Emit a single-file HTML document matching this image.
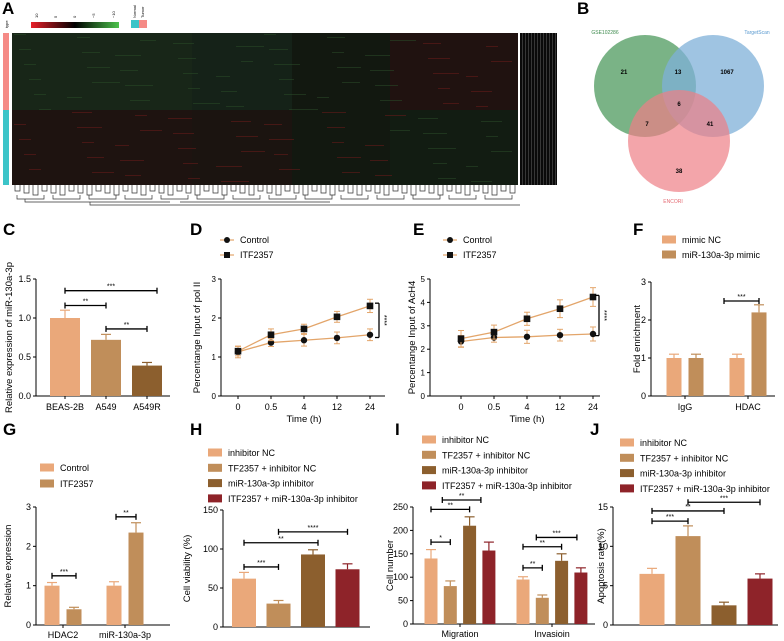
<!DOCTYPE html>
<html><head><meta charset="utf-8">
<style>
html,body{margin:0;padding:0;background:#fff;}
svg{display:block;font-family:"Liberation Sans",Arial,sans-serif;}
</style></head>
<body>
<svg id="fig" width="784" height="641" viewBox="0 0 784 641" xmlns="http://www.w3.org/2000/svg">
<defs>
<linearGradient id="cbar" x1="0" x2="1" y1="0" y2="0">
<stop offset="0" stop-color="#e8202a"/><stop offset="0.5" stop-color="#000"/><stop offset="1" stop-color="#4cc24c"/>
</linearGradient>
</defs>
<g>
<text x="2" y="14" font-size="17" font-weight="bold">A</text>
<rect x="31" y="22" width="88" height="6" fill="url(#cbar)"/>
<text x="38" y="18" font-size="4" transform="rotate(-90 38 18)">10</text>
<text x="57" y="18" font-size="4" transform="rotate(-90 57 18)">5</text>
<text x="76" y="18" font-size="4" transform="rotate(-90 76 18)">0</text>
<text x="95" y="18" font-size="4" transform="rotate(-90 95 18)">−5</text>
<text x="115" y="18" font-size="4" transform="rotate(-90 115 18)">−10</text>
<rect x="131" y="20" width="8" height="8" fill="#3cc4c8"/><rect x="139" y="20" width="8" height="8" fill="#f58a86"/>
<text x="136" y="18" font-size="4" transform="rotate(-90 136 18)">Normal</text>
<text x="144" y="18" font-size="4" transform="rotate(-90 144 18)">Tumor</text>
<text x="8" y="28" font-size="4" transform="rotate(-90 8 28)">type</text>
<rect x="3" y="33" width="6" height="77" fill="#f58a86"/>
<rect x="3" y="110" width="6" height="75" fill="#3cc4c8"/>
<rect x="12" y="33" width="506" height="152" fill="#121810"/>
<rect x="12" y="33" width="180" height="77" fill="#182618"/>
<rect x="192" y="33" width="100" height="77" fill="#152218"/>
<rect x="12" y="110" width="180" height="75" fill="#1e1310"/>
<rect x="192" y="110" width="100" height="75" fill="#1b1410"/>
<rect x="390" y="33" width="128" height="77" fill="#201210"/>
<rect x="390" y="110" width="128" height="75" fill="#121c12"/>
<g id="heatstripes"></g>
<rect x="520" y="33" width="37" height="152" fill="#0a0a0a"/>
<g id="labels-col"></g>
<g id="dendro" stroke="#333" stroke-width="0.7" fill="none"></g>
</g>
<g>
<text x="577" y="14" font-size="17" font-weight="bold">B</text>
<circle cx="645" cy="86" r="51" fill="#4e9a5e" fill-opacity="0.75"/>
<circle cx="713" cy="86" r="51" fill="#7fb0d8" fill-opacity="0.75"/>
<circle cx="679" cy="141" r="51" fill="#ee7f86" fill-opacity="0.7"/>
<g font-size="6" font-weight="bold" text-anchor="middle">
<text x="624" y="74">21</text><text x="678" y="74">13</text><text x="727" y="74">1067</text>
<text x="679" y="106">6</text><text x="647" y="126">7</text><text x="710" y="126">41</text><text x="679" y="173">38</text>
</g>
<text x="605" y="34" font-size="5" fill="#3d8a4d" text-anchor="middle">GSE102286</text>
<text x="757" y="34" font-size="5" fill="#5a9ad0" text-anchor="middle">TargetScan</text>
<text x="673" y="203" font-size="5" fill="#e46a72" text-anchor="middle">ENCORI</text>
</g>
<g id="charts"></g>
</svg>
<script>
const cCats = ["BEAS-2B","A549","A549R"];
const cVals = [1.0,0.72,0.39];
const cErrs = [0.1,0.07,0.04];
const cTicks = [0,0.5,1.0,1.5];
const cTickLabels = ["0.0","0.5","1.0","1.5"];
const cSig = [[0,2,"***",1.35],[0,1,"**",1.16],[1,2,"**",0.86]];

const timeCats = ["0","0.5","4","12","24"];
const dControl = [1.13,1.37,1.43,1.49,1.57];
const dControlErr = [0.15,0.1,0.15,0.15,0.15];
const dITF = [1.15,1.57,1.72,2.03,2.31];
const dITFErr = [0.12,0.15,0.12,0.14,0.17];
const dTicks = [0,1,2,3];
const eControl = [2.33,2.5,2.53,2.6,2.65];
const eControlErr = [0.25,0.2,0.28,0.25,0.3];
const eITF = [2.45,2.73,3.3,3.73,4.23];
const eITFErr = [0.35,0.3,0.28,0.38,0.4];
const eTicks = [0,1,2,3,4,5];

const fCats = ["IgG","HDAC"];
const fMimicNC = [1.0,1.0];
const fMimic = [1.0,2.2];
const fErrNC = [0.1,0.1];
const fErrMimic = [0.1,0.2];
const fTicks = [0,1,2,3];

const gCats = ["HDAC2","miR-130a-3p"];
const gControl = [1.0,1.0];
const gITF = [0.4,2.35];
const gErrControl = [0.08,0.1];
const gErrITF = [0.05,0.25];
const gTicks = [0,1,2,3];

const hVals = [62,30,93,74];
const hErrs = [8,4,6,7];
const hTicks = [0,50,100,150];
const hSig = [[0,1,"***",77],[0,2,"**",108],[1,3,"****",122]];

const iCats = ["Migration","Invasioin"];
const iMigration = [140,81,210,157];
const iMigErr = [19,11,19,18];
const iInvasion = [95,56,135,110];
const iInvErr = [6,6,15,10];
const iTicks = [0,50,100,150,200,250];

const jVals = [6.5,11.3,2.5,5.9];
const jErrs = [0.7,1.3,0.4,0.6];
const jTicks = [0,5,10,15];
const jSig = [[0,1,"***",13.2],[0,2,"**",14.5],[1,3,"***",15.6]];

const fourLegend = ["inhibitor NC","TF2357 + inhibitor NC","miR-130a-3p inhibitor","ITF2357 + miR-130a-3p inhibitor"];
const COL = ["#eaa87a","#c08e5a","#8c5f2e","#8e2329"];
const LINE = "#e3a56a";
const NS = "http://www.w3.org/2000/svg";
const root = document.getElementById("charts");
function mk(tag, attrs, parent, txt){
  const e = document.createElementNS(NS, tag);
  for (const k in attrs) e.setAttribute(k, attrs[k]);
  if (txt !== undefined) e.textContent = txt;
  (parent||root).appendChild(e);
  return e;
}
function grp(name){
  const g = document.createElementNS(NS,"g");
  
  
  root.appendChild(g);
  return g;
}
function yAxis(g, x0, yB, yT, max, ticks, labels, title, tx, fs){
  fs = fs || 9;
  const sy = v => yB - v/max*(yB-yT);
  mk("line",{x1:x0,y1:yB,x2:x0,y2:yT,stroke:"#000","stroke-width":1},g);
  ticks.forEach((t,i)=>{
    mk("line",{x1:x0-3,y1:sy(t),x2:x0,y2:sy(t),stroke:"#000","stroke-width":1},g);
    mk("text",{x:x0-5,y:sy(t)+3,"font-size":fs,"text-anchor":"end"},g,labels?labels[i]:String(t));
  });
  const ty=(yB+yT)/2;
  mk("text",{x:tx,y:ty,"font-size":9.5,"text-anchor":"middle",transform:`rotate(-90 ${tx} ${ty})`},g,title);
  return sy;
}
function xAxis(g,x0,x1,yB){ mk("line",{x1:x0,y1:yB,x2:x1,y2:yB,stroke:"#000","stroke-width":1},g); }
function bar(g, cx, w, v, e, sy, color, name){
  const r = mk("rect",{x:cx-w/2,y:sy(v),width:w,height:sy(0)-sy(v),fill:color},g);
  
  
  mk("line",{x1:cx,y1:sy(v),x2:cx,y2:sy(v+e),stroke:color,"stroke-width":1.2},g);
  mk("line",{x1:cx-5,y1:sy(v+e),x2:cx+5,y2:sy(v+e),stroke:color,"stroke-width":1.2},g);
}
function sig(g, xa, xb, y, lab){
  mk("line",{x1:xa,y1:y,x2:xb,y2:y,stroke:"#000","stroke-width":1.3},g);
  mk("line",{x1:xa,y1:y-3,x2:xa,y2:y+3,stroke:"#000","stroke-width":1.3},g);
  mk("line",{x1:xb,y1:y-3,x2:xb,y2:y+3,stroke:"#000","stroke-width":1.3},g);
  mk("text",{x:(xa+xb)/2,y:y-2,"font-size":7,"text-anchor":"middle"},g,lab);
}
function letter(g,l,x,y){ mk("text",{x:x,y:y,"font-size":17,"font-weight":"bold"},g,l); }
function legendSw(g,x,y,color,label){
  mk("rect",{x:x,y:y-4.5,width:14,height:8,fill:color},g);
  mk("text",{x:x+20,y:y+3,"font-size":9},g,label);
}

(function(){
  const g = grp("panel-c-bar-chart");
  letter(g,"C",3,235);
  const x0=36,yB=396,yT=279;
  const sy = yAxis(g,x0,yB,yT,1.5,cTicks,cTickLabels,"Relative expression of miR-130a-3p",12);
  xAxis(g,x0,170,yB);
  const bx = i => 65 + i*41;
  cCats.forEach((c,i)=>{
    bar(g,bx(i),30,cVals[i],cErrs[i],sy,COL[i],"bar-"+c.toLowerCase());
    mk("line",{x1:bx(i),y1:yB,x2:bx(i),y2:yB+3,stroke:"#000"},g);
    mk("text",{x:bx(i),y:yB+14,"font-size":9,"text-anchor":"middle"},g,c);
  });
  cSig.forEach(s=>sig(g,bx(s[0]),bx(s[1])+10*(s[1]-s[0]>1?1:0),sy(s[3]),s[2]));
})();

function linePanel(name,L,lx,x0,xEnd,ticks,max,ctrl,ctrlE,itf,itfE,title,tx,xs0,dx,sx){
  const g = grp(name);
  letter(g,L,lx,235);
  const yB=396,yT=279;
  const sy = yAxis(g,x0,yB,yT,max,ticks,null,title,tx,8);
  xAxis(g,x0,xEnd,yB);
  const bx = i => xs0 + i*dx;
  timeCats.forEach((c,i)=>{
    mk("line",{x1:bx(i),y1:yB,x2:bx(i),y2:yB+3,stroke:"#000"},g);
    mk("text",{x:bx(i),y:yB+14,"font-size":9,"text-anchor":"middle"},g,c);
  });
  mk("text",{x:(xs0+bx(4))/2,y:yB+26,"font-size":9.5,"text-anchor":"middle"},g,"Time (h)");
  [[ctrl,ctrlE,"circle","control"],[itf,itfE,"square","itf2357"]].forEach(([vals,errs,shape,nm])=>{
    const pts = vals.map((v,i)=>bx(i)+","+sy(v)).join(" ");
    const pl = mk("polyline",{points:pts,fill:"none",stroke:LINE,"stroke-width":1.3},g);
    
    
    vals.forEach((v,i)=>{
      mk("line",{x1:bx(i),y1:sy(v-errs[i]),x2:bx(i),y2:sy(v+errs[i]),stroke:LINE,"stroke-width":1},g);
      mk("line",{x1:bx(i)-3,y1:sy(v+errs[i]),x2:bx(i)+3,y2:sy(v+errs[i]),stroke:LINE,"stroke-width":1},g);
      mk("line",{x1:bx(i)-3,y1:sy(v-errs[i]),x2:bx(i)+3,y2:sy(v-errs[i]),stroke:LINE,"stroke-width":1},g);
      if(shape==="circle") mk("circle",{cx:bx(i),cy:sy(v),r:3.2,fill:"#111"},g);
      else mk("rect",{x:bx(i)-3.3,y:sy(v)-3.3,width:6.6,height:6.6,fill:"#111"},g);
    });
  });
  const i4 = 4;
  const ya = sy(ctrl[i4]-0.07), yb = sy(itf[i4]+0.07);
  mk("line",{x1:sx,y1:ya,x2:sx,y2:yb,stroke:"#000","stroke-width":1.3},g);
  mk("line",{x1:sx-4,y1:ya,x2:sx,y2:ya,stroke:"#000","stroke-width":1.3},g);
  mk("line",{x1:sx-4,y1:yb,x2:sx,y2:yb,stroke:"#000","stroke-width":1.3},g);
  mk("text",{x:sx+3,y:(ya+yb)/2,"font-size":7,"text-anchor":"middle",transform:`rotate(90 ${sx+3} ${(ya+yb)/2})`},g,"****");
  const lx2 = lx+30;
  mk("line",{x1:lx2,y1:240,x2:lx2+14,y2:240,stroke:LINE,"stroke-width":1.2},g);
  mk("circle",{cx:lx2+7,cy:240,r:3,fill:"#111"},g);
  mk("text",{x:lx2+20,y:243,"font-size":9},g,"Control");
  mk("line",{x1:lx2,y1:255,x2:lx2+14,y2:255,stroke:LINE,"stroke-width":1.2},g);
  mk("rect",{x:lx2+4,y:252,width:6,height:6,fill:"#111"},g);
  mk("text",{x:lx2+20,y:258,"font-size":9},g,"ITF2357");
}
linePanel("panel-d-line-chart","D",190,221,385,dTicks,3,dControl,dControlErr,dITF,dITFErr,"Percentange Input of pol II",200,238,33,379);
linePanel("panel-e-line-chart","E",413,430,600,eTicks,5,eControl,eControlErr,eITF,eITFErr,"Percentange Input of AcH4",415,461,33,599);

(function(){
  const g = grp("panel-f-bar-chart");
  letter(g,"F",633,235);
  const x0=651,yB=396,yT=282;
  const sy = yAxis(g,x0,yB,yT,3,fTicks,null,"Fold enrichment",640);
  xAxis(g,x0,775,yB);
  const gx = k => 685 + k*63;
  fCats.forEach((c,k)=>{
    bar(g,gx(k)-11,15,fMimicNC[k],fErrNC[k],sy,COL[0],"bar-"+c.toLowerCase()+"-mimic-nc");
    bar(g,gx(k)+11,15,fMimic[k],fErrMimic[k],sy,COL[1],"bar-"+c.toLowerCase()+"-mimic");
    mk("line",{x1:gx(k),y1:yB,x2:gx(k),y2:yB+3,stroke:"#000"},g);
    mk("text",{x:gx(k),y:yB+14,"font-size":9,"text-anchor":"middle"},g,c);
  });
  sig(g,gx(1)-24,gx(1)+11,sy(2.5),"***");
  legendSw(g,662,240,COL[0],"mimic NC");
  legendSw(g,662,255,COL[1],"miR-130a-3p mimic");
})();

(function(){
  const g = grp("panel-g-bar-chart");
  letter(g,"G",3,435);
  const x0=36,yB=625,yT=507;
  const sy = yAxis(g,x0,yB,yT,3,gTicks,null,"Relative expression",11);
  xAxis(g,x0,170,yB);
  const gx = k => 63 + k*62;
  gCats.forEach((c,k)=>{
    bar(g,gx(k)-11,15,gControl[k],gErrControl[k],sy,COL[0],"bar-"+c.toLowerCase()+"-control");
    bar(g,gx(k)+11,15,gITF[k],gErrITF[k],sy,COL[1],"bar-"+c.toLowerCase()+"-itf2357");
    mk("line",{x1:gx(k),y1:yB,x2:gx(k),y2:yB+3,stroke:"#000"},g);
    mk("text",{x:gx(k),y:yB+13,"font-size":9,"text-anchor":"middle"},g,c);
  });
  sig(g,gx(0)-11,gx(0)+13,sy(1.25),"***");
  sig(g,gx(1)-9,gx(1)+11,sy(2.75),"**");
  legendSw(g,40,468,COL[0],"Control");
  legendSw(g,40,484,COL[1],"ITF2357");
})();

(function(){
  const g = grp("panel-h-bar-chart");
  letter(g,"H",190,435);
  const x0=223,yB=627,yT=510;
  const sy = yAxis(g,x0,yB,yT,150,hTicks,null,"Cell viability (%)",190);
  xAxis(g,x0,370,yB);
  const bx = i => 244 + i*34.5;
  hVals.forEach((v,i)=>bar(g,bx(i),24,v,hErrs[i],sy,COL[i],"bar-h-"+(i+1)));
  hSig.forEach(s=>sig(g,bx(s[0]),bx(s[1])+(s[1]-s[0]>1?(s[0]===1?0:5):0),sy(s[3]),s[2]));
  fourLegend.forEach((l,i)=>legendSw(g,208,453+i*15.3,COL[i],l));
})();

(function(){
  const g = grp("panel-i-bar-chart");
  letter(g,"I",395,435);
  const x0=413,yB=624,yT=507;
  const sy = yAxis(g,x0,yB,yT,250,iTicks,null,"Cell number",393);
  xAxis(g,x0,595,yB);
  const gx = k => 460 + k*92;
  const bx = (k,i) => gx(k) - 29 + i*19.3;
  [iMigration,iInvasion].forEach((vals,k)=>{
    const errs = k===0?iMigErr:iInvErr;
    vals.forEach((v,i)=>bar(g,bx(k,i),13,v,errs[i],sy,COL[i],"bar-"+iCats[k].toLowerCase()+"-"+(i+1)));
    mk("line",{x1:gx(k),y1:yB,x2:gx(k),y2:yB+3,stroke:"#000"},g);
    mk("text",{x:gx(k),y:yB+13,"font-size":9,"text-anchor":"middle"},g,iCats[k]);
  });
  sig(g,bx(0,0),bx(0,1),sy(175),"*");
  sig(g,bx(0,0),bx(0,2),sy(245),"**");
  sig(g,bx(0,1)-8,bx(0,3)-8,sy(265),"**");
  sig(g,bx(1,0),bx(1,1),sy(120),"**");
  sig(g,bx(1,0),bx(1,2),sy(165),"**");
  sig(g,bx(1,1)-6,bx(1,3)-4,sy(185),"***");
  fourLegend.forEach((l,i)=>legendSw(g,422,440+i*15.3,COL[i],l));
})();

(function(){
  const g = grp("panel-j-bar-chart");
  letter(g,"J",590,435);
  const x0=613,yB=625,yT=507;
  const sy = yAxis(g,x0,yB,yT,15,jTicks,null,"Apoptosis rate(%)",604);
  xAxis(g,x0,778,yB);
  const bx = i => 652 + i*36;
  jVals.forEach((v,i)=>bar(g,bx(i),25,v,jErrs[i],sy,COL[i],"bar-j-"+(i+1)));
  jSig.forEach(s=>sig(g,bx(s[0]),bx(s[1]),sy(s[3]),s[2]));
  fourLegend.forEach((l,i)=>legendSw(g,620,443+i*15.3,COL[i],l));
})();

(function(){
  const hs = document.getElementById("heatstripes");
  for(let r=0;r<50;r++){
    const y = 34 + r*3;
    for(let j=0;j<10;j++){
      if((r*3+j*7)%5===0){
        const x = 14 + j*50 + (r*13)%30;
        const top = y<110;
        const red = (top && x>390) || (!top && x<390);
        mk("rect",{x:x,y:y,width:12+(r*j)%18,height:1,fill:red?"#6a1c1a":"#2a4a28","fill-opacity":0.55},hs);
      }
    }
  }
  const lc = document.getElementById("labels-col");
  for(let k=0;k<12;k++){
    mk("rect",{x:522+k*3,y:33,width:0.6,height:152,fill:"#555"},lc);
  }
  const dg = document.getElementById("dendro");
  for(let k=0;k<56;k++){
    const x = 15 + k*9;
    mk("path",{d:`M${x} 185 V${191+(k%3)*2} H${x+5} V185`},dg);
  }
  for(let k=0;k<14;k++){
    const x = 17 + k*36;
    mk("path",{d:`M${x} ${195} V${199} H${x+27} V195`},dg);
  }
  mk("path",{d:"M25 199 V202 H170 M180 202 H330 M90 202 V205 H520"},dg);
})();
</script>
</body></html>
